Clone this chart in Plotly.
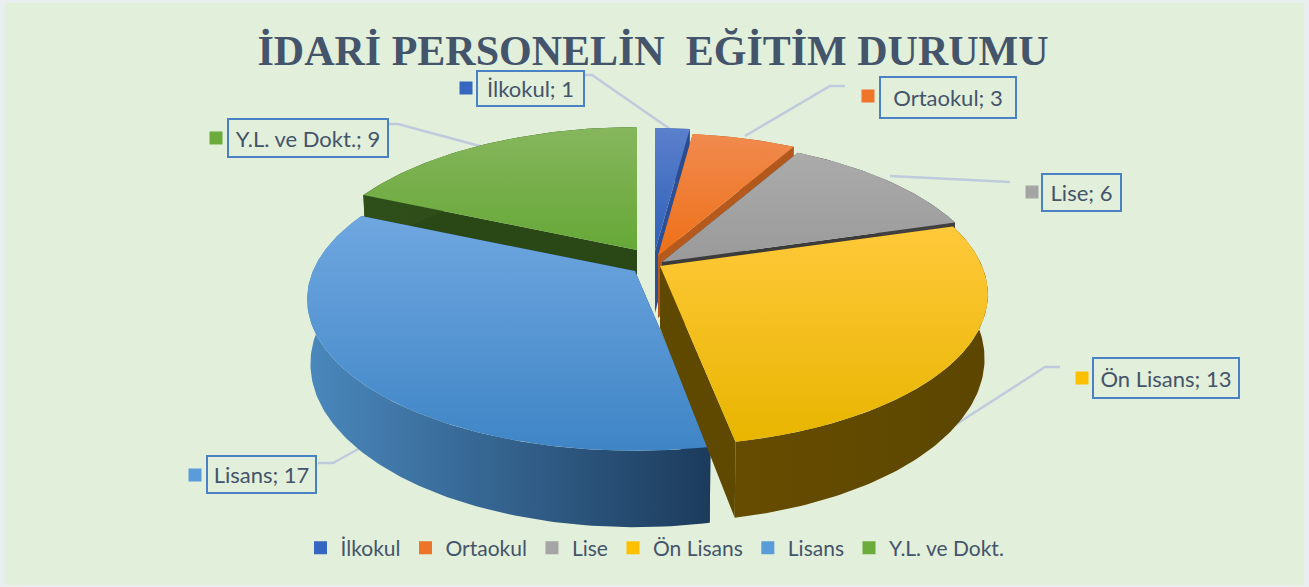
import math
import plotly.graph_objects as go

categories = ["İlkokul", "Ortaokul", "Lise", "Ön Lisans", "Lisans", "Y.L. ve Dokt."]
values = [1, 3, 6, 13, 17, 9]

# styling, one entry per slice
swatch = ["#3566c0", "#ed7428", "#a5a5a5", "#fdc000", "#5a9bd9", "#6cac3c"]
top_light = ["#5b80cc", "#f08a4e", "#ababab", "#ffc93a", "#6fa7e0", "#86b65d"]
top_dark = ["#2f60b8", "#ee7018", "#9a9a9a", "#e8b500", "#3f85c6", "#66a837"]
wall_a = ["#2a4c8f", "#b3581c", "#404040", "#664c00", "#4a88bd", "#2f4f1a"]
wall_b = ["#2a4c8f", "#b3581c", "#404040", "#5c4600", "#1c3b5c", "#2a4716"]
cut_col = ["#2c4f96", "#b5591d", "#3b3b3b", "#5f4800", "#1f3f60", "#2a4716"]
# explode offset of each slice's apex in the chart's drawing units
pull = [(5, -7), (8, -2), (12, 4), (10, 8), (-15, 13), (-13, -8)]
paint_order = [5, 0, 1, 2, 4, 3]

CX, CY = 650, 258
R, RK, P, H = 322, 146, 0.188, 62
BOTTOM_X = 0.99

label_box = [(530.5, 88.5, 107, 35), (948, 97.5, 136, 41), (1081.5, 192.5, 79, 37),
             (1166, 378, 146, 40), (261.5, 474.5, 109, 37), (308, 138, 160, 38)]
key_pos = [(466, 88), (868, 96), (1032, 192), (1082, 378), (195, 475), (216, 138)]
leaders = [[(584, 75), (592, 75), (670, 129)],
           [(745, 136), (830, 86), (845, 86)],
           [(890, 176), (1010, 182)],
           [(955, 425), (1045, 367), (1060, 367)],
           [(362, 447), (333, 463), (318, 463)],
           [(388, 124), (398, 124), (487, 148)]]
TEXT = "#44546a"


def project(theta, ax, ay, lower=False):
    u, v = math.sin(theta), math.cos(theta)
    w = 1 + P * v
    x = R * u / w
    y = -RK * v / w
    if lower:
        return ax + x * BOTTOM_X, ay + y + H / w
    return ax + x, ay + y


def arc(a0, a1, ax, ay, lower=False):
    n = max(8, int(abs(a1 - a0) * 60))
    return [project(a0 + (a1 - a0) * i / n, ax, ay, lower) for i in range(n + 1)]


def poly(points, color_a, color_b, kind):
    xs = [p[0] for p in points] + [points[0][0]]
    ys = [p[1] for p in points] + [points[0][1]]
    return go.Scatter(
        x=xs, y=ys, mode="lines", fill="toself", line=dict(width=0),
        fillgradient=dict(type=kind, colorscale=[[0, color_a], [1, color_b]]),
        hoverinfo="skip", showlegend=False)


total = sum(values)
edges = [0]
for val in values:
    edges.append(edges[-1] + val / total * 2 * math.pi)

fig = go.Figure()
for i in paint_order:
    a0, a1 = edges[i], edges[i + 1]
    ax, ay = CX + pull[i][0], CY + pull[i][1]
    apex = (ax, ay)
    apex_low = (ax, ay + H)
    for a in (a0, a1):
        pts = [apex, project(a, ax, ay), project(a, ax, ay, True), apex_low]
        fig.add_trace(poly(pts, cut_col[i], cut_col[i], "horizontal"))
    wall = arc(a0, a1, ax, ay) + arc(a0, a1, ax, ay, True)[::-1]
    fig.add_trace(poly(wall, wall_a[i], wall_b[i], "horizontal"))
    fig.add_trace(poly([apex] + arc(a0, a1, ax, ay), top_dark[i], top_light[i], "vertical"))

for i, cat in enumerate(categories):
    fig.add_trace(go.Scatter(
        x=[key_pos[i][0]], y=[key_pos[i][1]], mode="markers", name=cat,
        marker=dict(symbol="square", size=13, color=swatch[i]),
        hoverinfo="skip", showlegend=True))

shapes = [dict(type="rect", xref="x", yref="y", x0=5, x1=1304, y0=3, y1=585,
               fillcolor="#e2efda", line=dict(width=0), layer="below")]
for path in leaders:
    d = "M" + " L".join(f"{x},{y}" for x, y in path)
    shapes.append(dict(type="path", xref="x", yref="y", path=d, layer="below",
                       line=dict(color="#bfcbdd", width=2.5)))

annotations = []
for i, cat in enumerate(categories):
    bx, by, bw, bh = label_box[i]
    annotations.append(dict(
        x=bx, y=by, xref="x", yref="y", text=f"{cat}; {values[i]}", showarrow=False,
        width=bw - 2, height=bh - 2, align="center", valign="middle",
        bordercolor="#4a80c4", borderwidth=2, borderpad=0,
        font=dict(family="Lato", size=22, color=TEXT)))

fig.update_layout(
    width=1309, height=587, margin=dict(l=0, r=0, t=0, b=0),
    paper_bgcolor="#e9eeee", plot_bgcolor="rgba(0,0,0,0)",
    title=dict(text="İDARİ PERSONELİN  EĞİTİM DURUMU", x=653 / 1309, xanchor="center",
               y=0.915, yanchor="middle",
               font=dict(family="Liberation Serif", size=42, color=TEXT, weight="bold")),
    xaxis=dict(range=[0, 1309], visible=False, fixedrange=True),
    yaxis=dict(range=[587, 0], visible=False, fixedrange=True),
    legend=dict(orientation="h", x=655 / 1309, xanchor="center", y=1 - 548 / 587, yanchor="middle",
                bgcolor="rgba(0,0,0,0)", font=dict(family="Lato", size=21, color=TEXT),
                itemclick=False, itemdoubleclick=False, itemwidth=30),
    shapes=shapes, annotations=annotations, showlegend=True)

fig.write_html("out.html", config=dict(displayModeBar=False),
               post_script="document.body.style.margin='0';")
